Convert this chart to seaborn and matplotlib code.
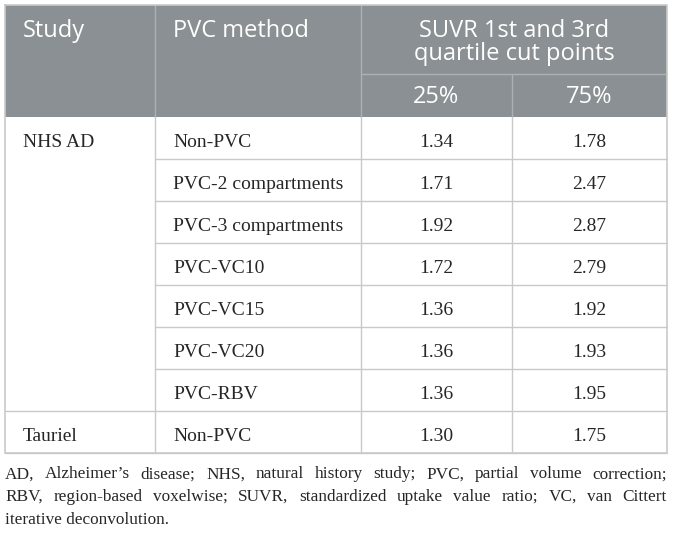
import matplotlib
matplotlib.use("Agg")
import matplotlib.pyplot as plt
import seaborn as sns

sns.set_style("white")

# table content
studies = ["NHS AD", "Tauriel"]
study_rows = [7, 1]
methods = ["Non-PVC", "PVC-2 compartments", "PVC-3 compartments", "PVC-VC10",
           "PVC-VC15", "PVC-VC20", "PVC-RBV", "Non-PVC"]
q25 = [1.34, 1.71, 1.92, 1.72, 1.36, 1.36, 1.36, 1.30]
q75 = [1.78, 2.47, 2.87, 2.79, 1.92, 1.93, 1.95, 1.75]
header_cols = ["Study", "PVC method"]
header_group = ["SUVR 1st and 3rd", "quartile cut points"]
header_sub = ["25%", "75%"]
footnote = [
    "AD, Alzheimer\u2019s disease; NHS, natural history study; PVC, partial volume correction;",
    "RBV, region-based voxelwise; SUVR, standardized uptake value ratio; VC, van Cittert",
    "iterative deconvolution.",
]

# layout in pixels
W, H = 673, 533
col_x = [5, 155, 361, 512, 667]
top, head_mid, head_bot, row_h = 5, 74, 117, 42
head_bg = "#8a9093"
line_c = "#c9c9c9"
head_line = "#adb1b3"
sans = "Open Sans"
serif = "Liberation Serif"
head_fs, body_fs, note_fs = 17, 14, 12.4

fig = plt.figure(figsize=(W / 100, H / 100), dpi=100)
ax = fig.add_axes([0, 0, 1, 1])
ax.set_xlim(0, W)
ax.set_ylim(H, 0)
ax.axis("off")

n = len(methods)
bottom = head_bot + n * row_h

# header block
ax.add_patch(plt.Rectangle((col_x[0], top), col_x[-1] - col_x[0], head_bot - top,
                           facecolor=head_bg, edgecolor="none"))
ax.plot([col_x[1], col_x[1]], [top, head_bot], color=head_line, lw=1)
ax.plot([col_x[2], col_x[2]], [top, head_bot], color=head_line, lw=1)
ax.plot([col_x[3], col_x[3]], [head_mid, head_bot], color=head_line, lw=1)
ax.plot([col_x[2], col_x[-1]], [head_mid, head_mid], color=head_line, lw=1)

for i, lab in enumerate(header_cols):
    ax.text(col_x[i] + 18, 37, lab, color="white", fontsize=head_fs, family=sans,
            ha="left", va="baseline")
gx = (col_x[2] + col_x[-1]) / 2
for j, lab in enumerate(header_group):
    ax.text(gx, 37 + 22.5 * j, lab, color="white", fontsize=head_fs, family=sans,
            ha="center", va="baseline")
for j, lab in enumerate(header_sub):
    ax.text((col_x[2 + j] + col_x[3 + j]) / 2, 103, lab, color="white",
            fontsize=head_fs, family=sans, ha="center", va="baseline")

# outer border
ax.plot([col_x[0], col_x[-1], col_x[-1], col_x[0], col_x[0]],
        [top, top, bottom, bottom, top], color=line_c, lw=1.2)
# body vertical lines
for x in col_x[1:4]:
    ax.plot([x, x], [head_bot, bottom], color=line_c, lw=1)

# body rows
r0 = 0
for s, k in zip(studies, study_rows):
    ax.text(col_x[0] + 18, head_bot + r0 * row_h + 30, s,
            fontsize=body_fs, family=serif, ha="left", va="baseline")
    ax.plot([col_x[0], col_x[1]], [head_bot + (r0 + k) * row_h] * 2, color=line_c, lw=1)
    r0 += k

for i in range(n):
    yb = head_bot + i * row_h + 30
    ax.text(col_x[1] + 18, yb, methods[i], fontsize=body_fs, family=serif,
            ha="left", va="baseline")
    ax.text((col_x[2] + col_x[3]) / 2, yb, f"{q25[i]:.2f}", fontsize=body_fs,
            family=serif, ha="center", va="baseline")
    ax.text((col_x[3] + col_x[4]) / 2, yb, f"{q75[i]:.2f}", fontsize=body_fs,
            family=serif, ha="center", va="baseline")
    ax.plot([col_x[1], col_x[-1]], [head_bot + (i + 1) * row_h] * 2, color=line_c, lw=1)

# footnote, justified
fig.canvas.draw()
renderer = fig.canvas.get_renderer()
for li, line in enumerate(footnote):
    y = bottom + 25.5 + li * 22.5
    words = line.split(" ")
    if li == len(footnote) - 1:
        ax.text(col_x[0], y, line, fontsize=note_fs, family=serif, ha="left", va="baseline")
        continue
    objs = [ax.text(0, y, w, fontsize=note_fs, family=serif, ha="left", va="baseline")
            for w in words]
    widths = [o.get_window_extent(renderer).width for o in objs]
    gap = (col_x[-1] - col_x[0] - sum(widths)) / (len(words) - 1)
    x = col_x[0]
    for o, w in zip(objs, widths):
        o.set_x(x)
        x += w + gap

fig.savefig("out.png", dpi=100)
